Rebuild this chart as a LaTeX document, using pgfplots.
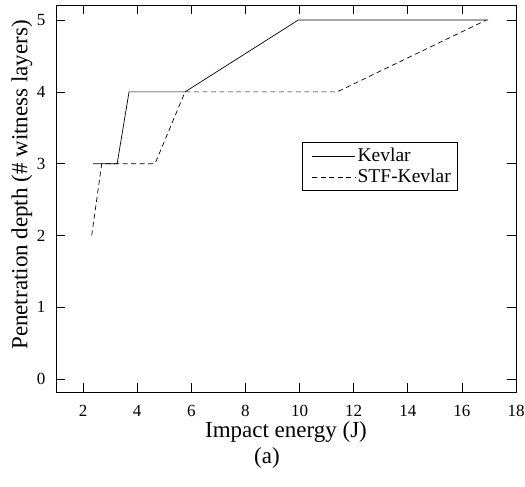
\documentclass[border=0pt]{standalone}
\usepackage{fontspec}
\setmainfont{Liberation Serif}
\usepackage{pgfplots}
\pgfplotsset{compat=1.18}

\begin{document}
\begin{tikzpicture}
\begin{axis}[
  scale only axis,
  width=460pt, height=387pt,
  xmin=1, xmax=18, ymin=-0.18, ymax=5.21,
  xtick={2,4,...,18}, ytick={0,1,...,5},
  tick align=inside,
  major tick length=9pt,
  tick style={black, line width=0.6pt},
  axis line style={line width=0.8pt},
  /pgf/number format/assume math mode=true,
  ticklabel style={font=\fontsize{17}{19}\selectfont},
  xticklabel style={yshift=-10pt},
  yticklabel style={xshift=-7pt},
  xlabel={Impact energy (J)\\\hspace*{-38pt}(a)},
  xlabel style={font=\fontsize{23}{26}\selectfont, align=center,
    at={(axis description cs:0.5,0)}, anchor=north, yshift=-26pt},
  ylabel={Penetration depth (\# witness layers)},
  ylabel style={font=\fontsize{23}{26}\selectfont,
    at={(axis description cs:-0.074,0.535)}, anchor=center},
  legend style={at={(0.703,0.583)}, anchor=center, draw=black, line width=0.6pt,
    font=\fontsize{19.5}{22}\selectfont, row sep=2pt, inner xsep=4pt, inner ysep=4pt},
  legend cell align=left,
  legend image code/.code={\path (0pt,0pt); \draw[#1] (6pt,0pt) -- (49pt,0pt);},
]
\addplot[black, line width=0.7pt] coordinates {
  (2.37,3) (3.26,3) (3.70,4) (5.77,4) (9.95,5) (16.97,5)
};
\addplot[black, line width=0.7pt, dash pattern=on 5pt off 3.5pt] coordinates {
  (2.32,2) (2.69,3) (4.66,3) (5.77,4) (11.39,4) (16.9,5)
};
\legend{Kevlar, STF-Kevlar}
\end{axis}
\pgfresetboundingbox
\useasboundingbox (current axis.south west)++(-56pt,-94pt) rectangle ([xshift=9pt,yshift=5pt]current axis.north east);
\end{tikzpicture}
\end{document}
